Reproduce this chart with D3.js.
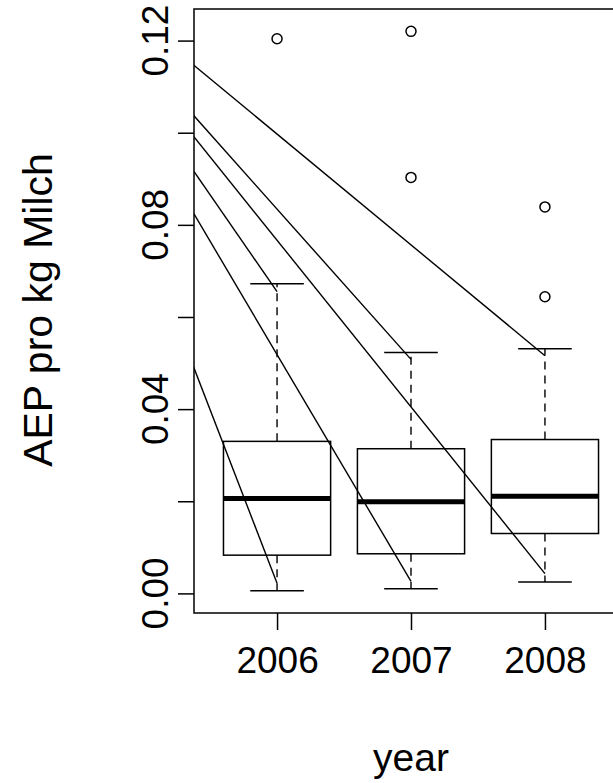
<!DOCTYPE html>
<html>
<head>
<meta charset="utf-8">
<script src="https://cdn.jsdelivr.net/npm/d3@7"></script>
<style>
  html, body { margin: 0; padding: 0; background: #fff; }
  svg { display: block; font-family: "Liberation Sans", Arial, Helvetica, sans-serif; }
</style>
</head>
<body>
<svg id="chart" width="613" height="783"></svg>
<script>
// ---- data ----
const years = ["2006", "2007", "2008"];
const whiskerLow  = [0.0006, 0.0010, 0.0025];
const q1          = [0.0083, 0.0086, 0.0130];
const median      = [0.0206, 0.0199, 0.0211];
const q3          = [0.0330, 0.0314, 0.0334];
const whiskerHigh = [0.0672, 0.0523, 0.0531];
const outliers    = [[0.1204], [0.1220, 0.0903], [0.0839, 0.0644]];

const yTickValues = [0, 0.02, 0.04, 0.06, 0.08, 0.10, 0.12];
const yTickLabels = ["0.00", "", "0.04", "", "0.08", "", "0.12"];

// pointer segments (from a common origin outside the plot)
const lineOrigin = [-0.90, 0.1454];
const lineEndPos = [3, 2, 3, 1, 2, 1];
const lineEndVal = [0.0516, 0.0508, 0.0043, 0.0655, 0.0026, 0.0022];

const xTitle = "year";
const yTitle = "AEP pro kg Milch";

// ---- layout ----
const plot = { left: 194, right: 628, top: 9, bottom: 613 };
const svg = d3.select("#chart");

const x = d3.scaleLinear().domain([0.38, 3.62]).range([plot.left, plot.right]);
const yMin = d3.min(whiskerLow), yMax = d3.max(outliers.flat());
const pad = (yMax - yMin) * 0.04;
const y = d3.scaleLinear().domain([yMin - pad, yMax + pad]).range([plot.bottom, plot.top]);

svg.append("defs").append("clipPath").attr("id", "clip")
  .append("rect").attr("x", plot.left).attr("y", plot.top)
  .attr("width", plot.right - plot.left).attr("height", plot.bottom - plot.top);

const g = svg.append("g").attr("clip-path", "url(#clip)");

const boxHalf = 0.4, capHalf = 0.2;
const stroke = "#000";

years.forEach((yr, i) => {
  const p = i + 1;
  // whiskers (dashed)
  g.append("line").attr("x1", x(p)).attr("x2", x(p))
    .attr("y1", y(q3[i])).attr("y2", y(whiskerHigh[i]))
    .attr("stroke", stroke).attr("stroke-width", 1.4).attr("stroke-dasharray", "8,6");
  g.append("line").attr("x1", x(p)).attr("x2", x(p))
    .attr("y1", y(q1[i])).attr("y2", y(whiskerLow[i]))
    .attr("stroke", stroke).attr("stroke-width", 1.4).attr("stroke-dasharray", "8,6");
  // caps
  [whiskerLow[i], whiskerHigh[i]].forEach(v => {
    g.append("line").attr("x1", x(p - capHalf)).attr("x2", x(p + capHalf))
      .attr("y1", y(v)).attr("y2", y(v))
      .attr("stroke", stroke).attr("stroke-width", 1.5);
  });
  // box
  g.append("rect").attr("x", x(p - boxHalf)).attr("y", y(q3[i]))
    .attr("width", x(p + boxHalf) - x(p - boxHalf)).attr("height", y(q1[i]) - y(q3[i]))
    .attr("fill", "none").attr("stroke", stroke).attr("stroke-width", 1.5);
  // median
  g.append("line").attr("x1", x(p - boxHalf)).attr("x2", x(p + boxHalf))
    .attr("y1", y(median[i])).attr("y2", y(median[i]))
    .attr("stroke", stroke).attr("stroke-width", 5);
  // outliers
  outliers[i].forEach(v => {
    g.append("circle").attr("cx", x(p)).attr("cy", y(v)).attr("r", 5)
      .attr("fill", "none").attr("stroke", stroke).attr("stroke-width", 1.5);
  });
});

// pointer lines
lineEndPos.forEach((p, k) => {
  g.append("line")
    .attr("x1", x(lineOrigin[0])).attr("y1", y(lineOrigin[1]))
    .attr("x2", x(p)).attr("y2", y(lineEndVal[k]))
    .attr("stroke", stroke).attr("stroke-width", 1.4);
});

// frame
svg.append("rect").attr("x", plot.left).attr("y", plot.top)
  .attr("width", plot.right - plot.left).attr("height", plot.bottom - plot.top)
  .attr("fill", "none").attr("stroke", stroke).attr("stroke-width", 1.5);

// y axis
const yAxis = d3.axisLeft(y).tickValues(yTickValues).tickSize(16)
  .tickFormat((d, i) => "");
const ya = svg.append("g").attr("transform", `translate(${plot.left},0)`).call(yAxis);
ya.select(".domain").remove();
ya.selectAll(".tick line").attr("stroke", stroke).attr("stroke-width", 1.5);
ya.selectAll(".tick text").remove();
yTickValues.forEach((v, i) => {
  if (!yTickLabels[i]) return;
  svg.append("text")
    .attr("transform", `translate(168,${y(v)}) rotate(-90)`)
    .attr("text-anchor", "middle")
    .attr("font-size", 37).attr("fill", "#000")
    .text(yTickLabels[i]);
});

// x axis
const xAxis = d3.axisBottom(x).tickValues([1, 2, 3]).tickSize(17)
  .tickFormat((d) => years[d - 1]);
const xa = svg.append("g").attr("transform", `translate(0,${plot.bottom})`).call(xAxis);
xa.select(".domain").remove();
xa.selectAll(".tick line").attr("stroke", stroke).attr("stroke-width", 1.5);
xa.selectAll(".tick text").attr("font-size", 37).attr("fill", "#000")
  .attr("y", 60).attr("dy", 0).attr("font-family", "Liberation Sans, Arial, sans-serif");

// titles
svg.append("text").attr("x", 411).attr("y", 771).attr("text-anchor", "middle")
  .attr("font-size", 39).attr("fill", "#000").text(xTitle);
svg.append("text").attr("transform", "translate(52,310) rotate(-90)")
  .attr("text-anchor", "middle").attr("font-size", 41).attr("fill", "#000").text(yTitle);
</script>
</body>
</html>
